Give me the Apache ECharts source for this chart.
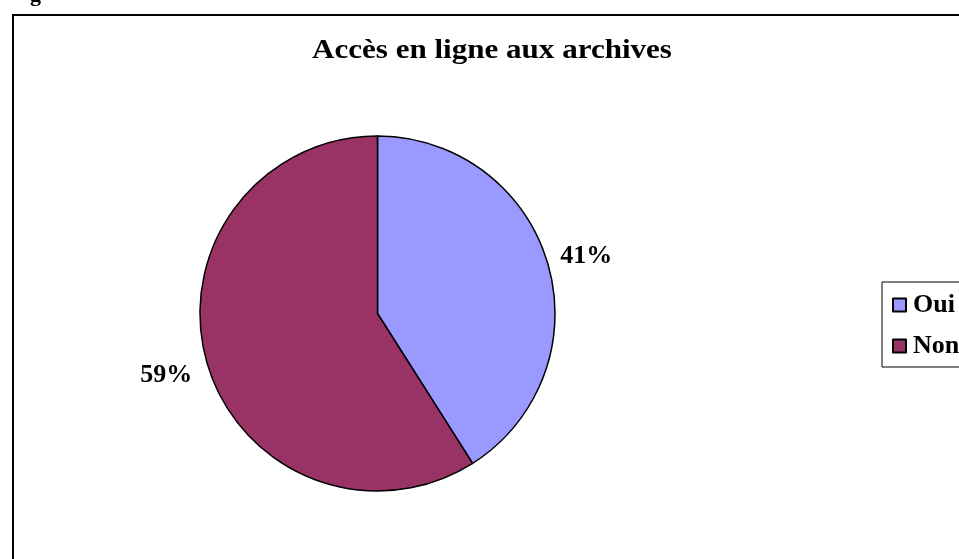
<!DOCTYPE html>
<html><head><meta charset="utf-8">
<script src="https://cdn.jsdelivr.net/npm/echarts@6/dist/echarts.min.js"></script>
<style>html,body{margin:0;padding:0;background:#fff}#c{width:959px;height:559px}</style>
</head><body><div id="c"></div>
<script>
const categories = ['Oui', 'Non'];
const values = [41, 59];
const colors = ['#9999FF', '#993366'];
const titleText = 'Accès en ligne aux archives';

const CX = 377.5, CY = 313.5, R = 177.5;
// label direction angles (degrees clockwise from top) and distance factors
const labelAngles = [74.7, 253.7];
const labelDists = [1.22, 1.24];

const chart = echarts.init(document.getElementById('c'), null, {renderer: 'canvas'});
const font = '"Liberation Serif", "Times New Roman", serif';
chart.setOption({
  animation: false,
  backgroundColor: '#fff',
  legend: {
    orient: 'vertical', left: 882, top: 282,
    data: categories,
    icon: 'rect', itemWidth: 13, itemHeight: 13, itemGap: 15,
    padding: [10, 10, 8, 10],
    borderColor: '#000', borderWidth: 1,
    textStyle: {fontFamily: font, fontWeight: 'bold', fontSize: 26, color: '#000', padding: [0, 0, 0, 2]}
  },
  graphic: [
    {type: 'rect', silent: true, shape: {x: 13, y: 15, width: 1000, height: 600},
     style: {fill: 'none', stroke: '#000', lineWidth: 2}, z: 0},
    {type: 'text', silent: true, x: 30, y: -16,
     style: {text: 'g', font: 'bold 22px "Liberation Serif"', fill: '#000'}},
    {type: 'text', silent: true, x: 492, y: 51, scaleX: 1.15,
     style: {text: titleText, font: 'bold 27px "Liberation Serif"', fill: '#000',
             align: 'center', verticalAlign: 'middle'}}
  ],
  series: [{
    type: 'pie',
    center: [CX, CY], radius: R,
    startAngle: 90, clockwise: true,
    data: categories.map((c, i) => ({name: c, value: values[i], itemStyle: {color: colors[i]}})),
    itemStyle: {borderColor: '#000', borderWidth: 1.5},
    label: {
      show: true, position: 'outside',
      formatter: p => Math.round(p.percent) + '%',
      fontFamily: font, fontWeight: 'bold', fontSize: 26, color: '#000'
    },
    labelLine: {show: false},
    labelLayout: function (p) {
      const a = labelAngles[p.dataIndex] * Math.PI / 180;
      const d = R * labelDists[p.dataIndex];
      return {
        x: CX + d * Math.sin(a),
        y: CY - d * Math.cos(a),
        align: 'center', verticalAlign: 'middle'
      };
    },
    emphasis: {disabled: true}
  }]
});
</script></body></html>
